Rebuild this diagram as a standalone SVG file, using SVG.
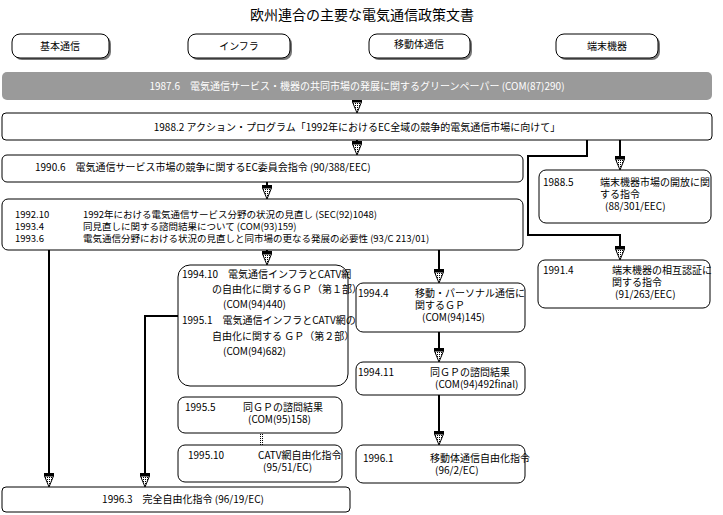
<svg xmlns="http://www.w3.org/2000/svg" xmlns:xlink="http://www.w3.org/1999/xlink" width="723" height="515" viewBox="0 0 723 515">
<defs>
<pattern id="dots" width="2" height="2" patternUnits="userSpaceOnUse">
<rect width="2" height="2" fill="#fff"/>
<rect width="1" height="1" fill="#000"/>
</pattern>
<g id="ah">
<rect x="-5" y="-14" width="10" height="3" fill="#000"/>
<polygon points="-4.5,-11 4.5,-11 0,0" fill="url(#dots)" stroke="#000" stroke-width="1"/>
</g>
<style>
text{font-family:"Noto Sans CJK JP","Noto Sans CJK SC",sans-serif;font-size:10px;fill:#000}
.box{fill:#fff;stroke:#000;stroke-width:1}
.shadow{fill:#777}
.mid{text-anchor:middle}
.wt{fill:#fff}
.ln{fill:none;stroke:#000;stroke-width:2}
.sm{font-size:9.5px}
</style>
</defs>
<rect width="723" height="515" fill="#fff"/>
<text x="362" y="20" class="mid" style="font-size:14px">欧州連合の主要な電気通信政策文書</text>

<g id="hdr1"><rect x="14" y="36" width="97" height="24" rx="8" class="shadow"/><rect x="12" y="34" width="97" height="24" rx="8" class="box"/><text x="60" y="50" class="mid">基本通信</text></g>
<g id="hdr2"><rect x="190" y="36" width="102" height="24" rx="8" class="shadow"/><rect x="188" y="34" width="102" height="24" rx="8" class="box"/><text x="239" y="50" class="mid">インフラ</text></g>
<g id="hdr3"><rect x="371" y="36" width="101" height="24" rx="8" class="shadow"/><rect x="369" y="34" width="101" height="24" rx="8" class="box"/><text x="419" y="48" class="mid">移動体通信</text></g>
<g id="hdr4"><rect x="558" y="36" width="102" height="24" rx="8" class="shadow"/><rect x="556" y="34" width="102" height="24" rx="8" class="box"/><text x="607" y="50" class="mid">端末機器</text></g>

<g id="connectors">
<line x1="357" y1="100" x2="357" y2="104" class="ln"/><use xlink:href="#ah" x="357" y="113"/>
<line x1="357" y1="140" x2="357" y2="142" class="ln"/><use xlink:href="#ah" x="357" y="155"/>
<line x1="620" y1="140" x2="620" y2="157" class="ln"/><use xlink:href="#ah" x="620" y="170"/>
<polyline points="587,140 587,156 528,156 528,235 620,235 620,247" class="ln"/><use xlink:href="#ah" x="620" y="260"/>
<line x1="267" y1="182" x2="267" y2="186" class="ln"/><use xlink:href="#ah" x="267" y="199"/>
<line x1="49" y1="250" x2="49" y2="474" class="ln"/><use xlink:href="#ah" x="49" y="487"/>
<line x1="267" y1="250" x2="267" y2="252" class="ln"/><use xlink:href="#ah" x="267" y="265"/>
<line x1="439" y1="250" x2="439" y2="270" class="ln"/><use xlink:href="#ah" x="439" y="283"/>
<polyline points="178,316 145,316 145,474" class="ln"/><use xlink:href="#ah" x="145" y="487"/>
<line x1="439" y1="332" x2="439" y2="349" class="ln"/><use xlink:href="#ah" x="439" y="362"/>
<line x1="439" y1="395" x2="439" y2="432" class="ln"/><use xlink:href="#ah" x="439" y="445"/>
<rect x="260" y="433" width="4" height="12" fill="url(#dots)"/>
</g>

<g id="n1987"><rect x="2" y="72" width="710" height="28" rx="5" fill="#9a9a9a"/><text x="357" y="90" class="mid wt">1987.6　電気通信サービス・機器の共同市場の発展に関するグリーンペーパー (COM(87)290)</text></g>
<g id="n1988-2"><rect x="2" y="113" width="710" height="27" rx="4" class="box"/><text x="357" y="131" class="mid">1988.2 アクション・プログラム「1992年におけるEC全域の競争的電気通信市場に向けて」</text></g>
<g id="n1990"><rect x="2" y="155" width="521" height="27" rx="5" class="box"/><text x="35" y="171">1990.6　電気通信サービス市場の競争に関するEC委員会指令 (90/388/EEC)</text></g>
<g id="n1988-5"><rect x="539" y="170" width="172" height="53" rx="7" class="box"/><text x="543" y="186">1988.5</text><text x="600" y="186">端末機器市場の開放に関<tspan x="600" y="198">する指令</tspan><tspan x="605" y="210">(88/301/EEC)</tspan></text></g>
<g id="n1992"><rect x="2" y="199" width="521" height="51" rx="6" class="box"/>
<text x="15" y="218" class="sm">1992.10<tspan x="15" y="230">1993.4</tspan><tspan x="15" y="242">1993.6</tspan></text>
<text x="83" y="218" class="sm">1992年における電気通信サービス分野の状況の見直し (SEC(92)1048)<tspan x="83" y="230">同見直しに関する諮問結果について (COM(93)159)</tspan><tspan x="83" y="242">電気通信分野における状況の見直しと同市場の更なる発展の必要性 (93/C 213/01)</tspan></text></g>
<g id="n1991"><rect x="538" y="260" width="172" height="48" rx="7" class="box"/><text x="543" y="274">1991.4</text><text x="612" y="274">端末機器の相互認証に<tspan x="612" y="286">関する指令</tspan><tspan x="615" y="298">(91/263/EEC)</tspan></text></g>
<g id="n1994-10"><rect x="178" y="265" width="170" height="121" rx="12" class="box"/>
<text x="182" y="278">1994.10　電気通信インフラとCATV網<tspan x="212" y="293">の自由化に関するＧＰ（第１部）</tspan><tspan x="223" y="308">(COM(94)440)</tspan><tspan x="182" y="324">1995.1　電気通信インフラとCATV網の</tspan><tspan x="212" y="340">自由化に関する ＧＰ（第２部）</tspan><tspan x="223" y="355">(COM(94)682)</tspan></text></g>
<g id="n1994-4"><rect x="356" y="283" width="169" height="49" rx="7" class="box"/><text x="358" y="297">1994.4</text><text x="415" y="297">移動・パーソナル通信に<tspan x="415" y="309">関するＧＰ</tspan><tspan x="422" y="321">(COM(94)145)</tspan></text></g>
<g id="n1994-11"><rect x="356" y="362" width="169" height="33" rx="7" class="box"/><text x="358" y="376">1994.11</text><text x="430" y="376">同ＧＰの諮問結果<tspan x="435" y="388">(COM(94)492final)</tspan></text></g>
<g id="n1995-5"><rect x="178" y="397" width="164" height="36" rx="7" class="box"/><text x="185" y="411">1995.5</text><text x="243" y="411">同ＧＰの諮問結果<tspan x="248" y="423">(COM(95)158)</tspan></text></g>
<g id="n1995-10"><rect x="178" y="445" width="164" height="37" rx="7" class="box"/><text x="188" y="459">1995.10</text><text x="258" y="459">CATV網自由化指令<tspan x="263" y="471">(95/51/EC)</tspan></text></g>
<g id="n1996-1"><rect x="356" y="445" width="169" height="38" rx="7" class="box"/><text x="363" y="462">1996.1</text><text x="430" y="462">移動体通信自由化指令<tspan x="435" y="474">(96/2/EC)</tspan></text></g>
<g id="n1996-3"><rect x="2" y="487" width="348" height="25" rx="4" class="box"/><text x="183" y="503" class="mid">1996.3　完全自由化指令 (96/19/EC)</text></g>
</svg>
